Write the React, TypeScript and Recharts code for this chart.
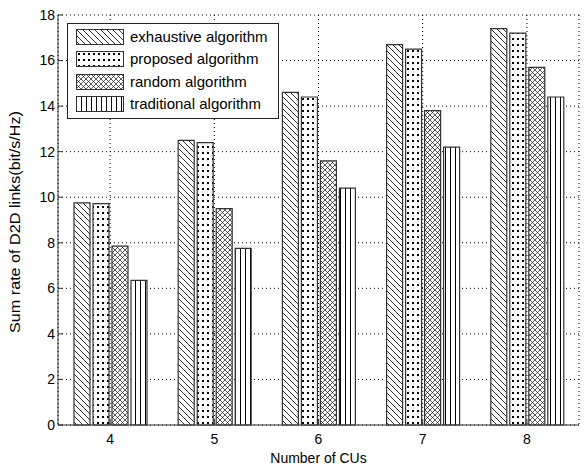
import React from 'react';
import {
  BarChart,
  Bar,
  XAxis,
  YAxis,
  CartesianGrid,
  Legend,
} from 'recharts';

const categories = ['4', '5', '6', '7', '8'];
const exhaustive = [9.75, 12.5, 14.6, 16.7, 17.4];
const proposed = [9.72, 12.4, 14.4, 16.5, 17.2];
const randomAlg = [7.85, 9.5, 11.6, 13.8, 15.7];
const traditional = [6.35, 7.75, 10.4, 12.2, 14.4];
const yTicks = [0, 2, 4, 6, 8, 10, 12, 14, 16, 18];

const seriesNames = [
  'exhaustive algorithm',
  'proposed algorithm',
  'random algorithm',
  'traditional algorithm',
];
const patternIds = ['pat-exh', 'pat-prop', 'pat-rand', 'pat-trad'];

const data = categories.map((c, i) => ({
  cu: c,
  exhaustive: exhaustive[i],
  proposed: proposed[i],
  random: randomAlg[i],
  traditional: traditional[i],
}));

const FONT = '"Liberation Sans", Arial, sans-serif';
const EDGE = '#333';

const Patterns = () => (
  <svg width={0} height={0} style={{ position: 'absolute' }}>
    <defs>
      <pattern id="pat-exh" patternUnits="userSpaceOnUse" width={6} height={6}>
        <rect width={6} height={6} fill="#fff" />
        <path d="M0,0 L6,6 M-1,5 L1,7 M5,-1 L7,1" stroke="#000" strokeWidth={0.8} />
      </pattern>
      <pattern id="pat-prop" patternUnits="userSpaceOnUse" width={5} height={6}>
        <rect width={5} height={6} fill="#fff" />
        <rect x={2} y={2} width={2} height={2} fill="#000" />
      </pattern>
      <pattern id="pat-rand" patternUnits="userSpaceOnUse" width={5} height={5}>
        <rect width={5} height={5} fill="#fff" />
        <path d="M0,0 L5,5 M5,0 L0,5" stroke="#111" strokeWidth={0.7} />
      </pattern>
      <pattern id="pat-trad" patternUnits="userSpaceOnUse" width={5} height={5}>
        <rect width={5} height={5} fill="#fff" />
        <line x1={0.5} y1={0} x2={0.5} y2={5} stroke="#000" strokeWidth={1} />
      </pattern>
    </defs>
  </svg>
);

const LeftTick = (props: any) => {
  const { x, y, payload } = props;
  return (
    <g>
      <line x1={x + 3} x2={x + 8} y1={y} y2={y} stroke={EDGE} />
      <text x={x} y={y} dy="0.35em" textAnchor="end" fontSize={14} fontFamily={FONT} fill="#000">
        {payload.value}
      </text>
    </g>
  );
};

const RightTick = (props: any) => {
  const { x, y } = props;
  return <line x1={x - 5} x2={x} y1={y} y2={y} stroke={EDGE} />;
};

const BottomTick = (props: any) => {
  const { x, y, payload } = props;
  const axisY = y - 8;
  return (
    <g>
      <line x1={x} x2={x} y1={axisY - 5} y2={axisY} stroke={EDGE} />
      <text x={x} y={axisY + 19} textAnchor="middle" fontSize={14} fontFamily={FONT} fill="#000">
        {payload.value}
      </text>
    </g>
  );
};

const TopTick = (props: any) => {
  const { x, y } = props;
  return <line x1={x} x2={x} y1={y} y2={y + 5} stroke={EDGE} />;
};

const LegendBox = () => (
  <div
    style={{
      width: 210,
      height: 94,
      background: '#fff',
      border: '1px solid #222',
      position: 'relative',
      fontFamily: FONT,
    }}
  >
    {seriesNames.map((name, i) => (
      <div
        key={name}
        style={{ position: 'absolute', left: 8, top: 5 + i * 22.3, height: 16, display: 'flex', alignItems: 'center' }}
      >
        <svg width={49} height={16} style={{ display: 'block' }}>
          <rect x={0.5} y={0.5} width={47} height={15} fill={`url(#${patternIds[i]})`} stroke={EDGE} />
        </svg>
        <span style={{ marginLeft: 5, fontSize: 15, lineHeight: '16px', color: '#000' }}>{name}</span>
      </div>
    ))}
  </div>
);

export default function App() {
  const keys = ['exhaustive', 'proposed', 'random', 'traditional'];
  return (
    <div style={{ position: 'absolute', left: 0, top: 0, width: 584, height: 469, background: '#fff' }}>
      <Patterns />
      <BarChart
        width={584}
        height={469}
        data={data}
        margin={{ top: 15, right: 5, bottom: 0, left: 0 }}
        barCategoryGap={16}
        barGap={3}
      >
        <CartesianGrid stroke="#000" strokeDasharray="1 3" strokeWidth={1} />
        <XAxis
          dataKey="cu"
          height={44}
          tick={<BottomTick />}
          tickSize={0}
          tickMargin={8}
          axisLine={{ stroke: EDGE }}
          tickLine={false}
          interval={0}
          label={{
            content: (p: any) => {
              const vb = p.viewBox;
              return (
                <text x={vb.x + vb.width / 2} y={vb.y + 38} textAnchor="middle" fontSize={14} fontFamily={FONT} fill="#000">
                  Number of CUs
                </text>
              );
            },
          }}
        />
        <XAxis
          xAxisId="t"
          dataKey="cu"
          orientation="top"
          height={0}
          tick={<TopTick />}
          tickSize={0}
          tickMargin={0}
          axisLine={{ stroke: EDGE }}
          tickLine={false}
          interval={0}
        />
        <YAxis
          width={58}
          domain={[0, 18]}
          ticks={yTicks}
          tick={<LeftTick />}
          tickSize={0}
          tickMargin={3}
          axisLine={{ stroke: EDGE }}
          tickLine={false}
          interval={0}
          label={{
            content: (p: any) => {
              const vb = p.viewBox;
              const cx = 15;
              const cy = vb.y + vb.height / 2 + 2;
              return (
                <text
                  x={cx}
                  y={cy}
                  transform={`rotate(-90 ${cx} ${cy})`}
                  textAnchor="middle"
                  dy="0.35em"
                  fontSize={15}
                  fontFamily={FONT}
                  fill="#000"
                  textLength={222}
                  lengthAdjust="spacingAndGlyphs"
                >
                  Sum rate of D2D links(bit/s/Hz)
                </text>
              );
            },
          }}
        />
        <YAxis
          yAxisId="r"
          orientation="right"
          width={0}
          domain={[0, 18]}
          ticks={yTicks}
          tick={<RightTick />}
          tickSize={0}
          tickMargin={0}
          axisLine={{ stroke: EDGE }}
          tickLine={false}
          interval={0}
        />
        <Legend
          layout="vertical"
          align="center"
          verticalAlign="middle"
          wrapperStyle={{ left: 67, top: 23, width: 212, height: 96 }}
          content={() => <LegendBox />}
        />
        {keys.map((k, i) => (
          <Bar
            key={k}
            dataKey={k}
            name={seriesNames[i]}
            fill={`url(#${patternIds[i]})`}
            stroke={EDGE}
            strokeWidth={1.2}
            isAnimationActive={false}
          />
        ))}
      </BarChart>
    </div>
  );
}
